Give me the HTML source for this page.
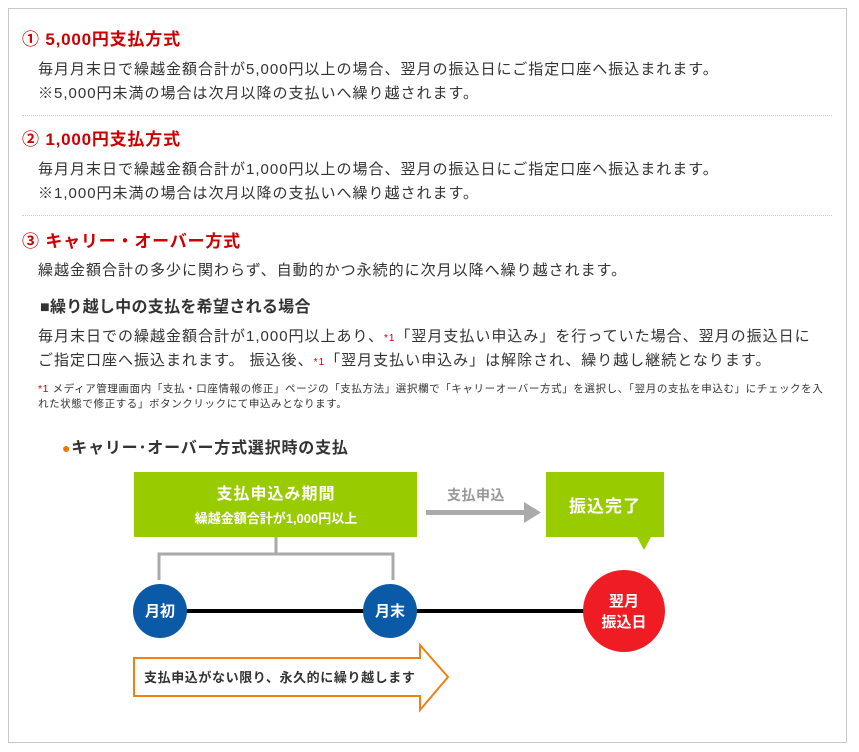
<!DOCTYPE html>
<html><head><meta charset="utf-8"><style>
*{margin:0;padding:0;box-sizing:border-box}
body{width:859px;height:752px;background:#fff;font-family:"Liberation Sans","Noto Sans CJK JP",sans-serif;color:#333;position:relative;overflow:hidden}
.frame{position:absolute;left:8px;top:8px;width:839px;height:735px;border:1px solid #c8c8c8}
.t{position:absolute;white-space:nowrap}
.h{color:#c00;font-weight:bold;font-size:17px;left:22px;letter-spacing:0.8px}
.b{font-size:15px;left:38px;letter-spacing:1px}
.hr{position:absolute;left:22px;width:810px;border-top:1px dotted #ccc}
.fn{font-size:10.5px;left:38px;color:#333;letter-spacing:0.6px}
.red{color:#c00}
</style></head><body>
<div class="frame"></div>
<div class="t h" style="top:25px">① 5,000円支払方式</div>
<div class="t b" style="top:58px">毎月月末日で繰越金額合計が5,000円以上の場合、翌月の振込日にご指定口座へ振込まれます。</div>
<div class="t b" style="top:82px">※5,000円未満の場合は次月以降の支払いへ繰り越されます。</div>
<div class="hr" style="top:115px"></div>
<div class="t h" style="top:125px">② 1,000円支払方式</div>
<div class="t b" style="top:158px">毎月月末日で繰越金額合計が1,000円以上の場合、翌月の振込日にご指定口座へ振込まれます。</div>
<div class="t b" style="top:182px">※1,000円未満の場合は次月以降の支払いへ繰り越されます。</div>
<div class="hr" style="top:215px"></div>
<div class="t h" style="top:227px">③ キャリー・オーバー方式</div>
<div class="t b" style="top:259px">繰越金額合計の多少に関わらず、自動的かつ永続的に次月以降へ繰り越されます。</div>
<div class="t" style="top:293px;left:40px;font-size:16px;font-weight:bold;letter-spacing:0.3px">■繰り越し中の支払を希望される場合</div>
<div class="t b" style="top:325px">毎月末日での繰越金額合計が1,000円以上あり、<span class="red" style="font-size:10px">*1</span>「翌月支払い申込み」を行っていた場合、翌月の振込日に</div>
<div class="t b" style="top:349px">ご指定口座へ振込まれます。 振込後、<span class="red" style="font-size:10px">*1</span>「翌月支払い申込み」は解除され、繰り越し継続となります。</div>
<div class="t fn" style="top:381px"><span class="red">*1</span> メディア管理画面内「支払・口座情報の修正」ページの「支払方法」選択欄で「キャリーオーバー方式」を選択し、「翌月の支払を申込む」にチェックを入</div>
<div class="t fn" style="top:396px">れた状態で修正する」ボタンクリックにて申込みとなります。</div>
<div class="t" style="top:434px;left:62px;font-size:16px;font-weight:bold;letter-spacing:0.8px"><span style="color:#f07800;font-size:14px">●</span>キャリー･オーバー方式選択時の支払</div>
<svg style="position:absolute;left:0;top:0" width="859" height="752">
<rect x="134" y="472" width="283" height="65" fill="#99cc00"/>
<text x="276" y="499" fill="#fff" font-size="16" font-weight="bold" text-anchor="middle" letter-spacing="1" font-family="Liberation Sans,Noto Sans CJK JP,sans-serif">支払申込み期間</text>
<text x="276" y="523" fill="#fff" font-size="13" font-weight="bold" text-anchor="middle" font-family="Liberation Sans,Noto Sans CJK JP,sans-serif">繰越金額合計が1,000円以上</text>
<text x="476" y="500" fill="#999" font-size="14" font-weight="bold" text-anchor="middle" letter-spacing="0.5" font-family="Liberation Sans,Noto Sans CJK JP,sans-serif">支払申込</text>
<rect x="426" y="510" width="100" height="5" fill="#aaa"/>
<polygon points="524,502 541,512.5 524,523" fill="#aaa"/>
<rect x="546" y="472" width="118" height="65" fill="#99cc00"/>
<polygon points="637,537 651,537 644,550" fill="#99cc00"/>
<text x="605" y="512" fill="#fff" font-size="17" font-weight="bold" text-anchor="middle" letter-spacing="1" font-family="Liberation Sans,Noto Sans CJK JP,sans-serif">振込完了</text>
<path d="M276 537V554M159 580V554H393V580" stroke="#aaa" stroke-width="3" fill="none"/>
<line x1="160" y1="611" x2="600" y2="611" stroke="#000" stroke-width="4"/>
<circle cx="160" cy="611" r="27" fill="#0b5aa8"/>
<circle cx="390" cy="611" r="27" fill="#0b5aa8"/>
<circle cx="624" cy="611" r="41" fill="#f01c24"/>
<g fill="#fff" font-size="15" font-weight="bold" text-anchor="middle" font-family="Liberation Sans,Noto Sans CJK JP,sans-serif">
<text x="160" y="616">月初</text><text x="390" y="616">月末</text>
<text x="624" y="606">翌月</text><text x="624" y="627">振込日</text></g>
<polygon points="134,658 420,658 420,645 448,677 420,710 420,696 134,696" fill="#fff" stroke="#f08010" stroke-width="2"/>
<text x="144" y="682" fill="#333" font-size="13" font-weight="bold" letter-spacing="0.6" font-family="Liberation Sans,Noto Sans CJK JP,sans-serif">支払申込がない限り、永久的に繰り越します</text>
</svg>
</body></html>
